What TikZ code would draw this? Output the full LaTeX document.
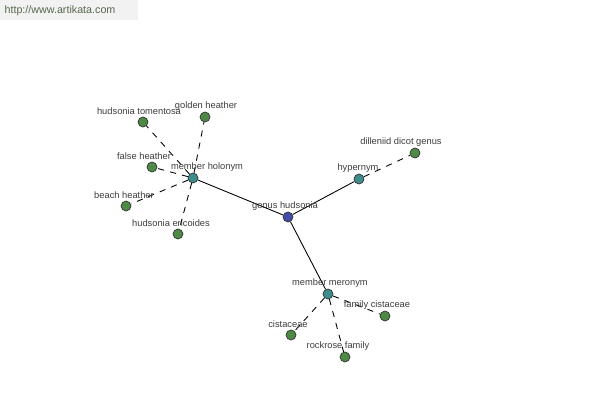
\documentclass[tikz,border=0pt]{standalone}
\usepackage{fontspec}
\setmainfont{Liberation Sans}
\usetikzlibrary{positioning}
\definecolor{rootcolor}{RGB}{68,78,168}
\definecolor{relcolor}{RGB}{62,140,142}
\definecolor{leafcolor}{RGB}{78,138,70}
\definecolor{labelcolor}{RGB}{60,60,60}
\definecolor{markcolor}{RGB}{85,105,75}

\begin{document}
\begin{tikzpicture}[x=0.02cm, y=-0.02cm,
    word/.style={circle, draw=black!80, line width=0.4pt, minimum size=0.2cm, inner sep=0pt},
    root/.style={word, fill=rootcolor},
    rel/.style={word, fill=relcolor},
    leaf/.style={word, fill=leafcolor},
    tag/.style={font=\fontsize{5.3}{6}\selectfont, text=labelcolor, inner sep=0pt},
    link/.style={line width=0.5pt, black},
    sublink/.style={line width=0.5pt, black, dash pattern=on 3.5pt off 3.5pt},
]
    \useasboundingbox (0,0) rectangle (600,400);
    \fill[gray!10] (0,0) rectangle (138,20);
    \node[font=\fontsize{6.1}{7}\selectfont, text=markcolor, inner sep=0pt] (mark) at (60,11) {http://www.artikata.com};

    \node[root] (genus) at (288,217) {};
    \node[rel] (holonym) at (193,178) {};
    \node[rel] (hypernym) at (359,179) {};
    \node[rel] (meronym) at (328,294) {};

    \node[leaf] (tomentosa) at (143,122) {};
    \node[leaf] (golden) at (205,117) {};
    \node[leaf] (false) at (152,167) {};
    \node[leaf] (beach) at (126,206) {};
    \node[leaf] (ericoides) at (178,234) {};
    \node[leaf] (dilleniid) at (415,153) {};
    \node[leaf] (cistaceaefam) at (385,316) {};
    \node[leaf] (cistaceae) at (291,335) {};
    \node[leaf] (rockrose) at (345,357) {};

    \draw[link] (genus) -- (holonym);
    \draw[link] (genus) -- (hypernym);
    \draw[link] (genus) -- (meronym);
    \draw[sublink] (holonym) -- (tomentosa);
    \draw[sublink] (holonym) -- (golden);
    \draw[sublink] (holonym) -- (false);
    \draw[sublink] (holonym) -- (beach);
    \draw[sublink] (holonym) -- (ericoides);
    \draw[sublink] (hypernym) -- (dilleniid);
    \draw[sublink] (meronym) -- (cistaceaefam);
    \draw[sublink] (meronym) -- (cistaceae);
    \draw[sublink] (meronym) -- (rockrose);

    \node[tag] (genus-t) at (285,206) {genus hudsonia};
    \node[tag] (holonym-t) at (207,167) {member holonym};
    \node[tag] (hypernym-t) at (358,168) {hypernym};
    \node[tag] (meronym-t) at (330,283) {member meronym};
    \node[tag] (tomentosa-t) at (139,111) {hudsonia tomentosa};
    \node[tag] (golden-t) at (206,106) {golden heather};
    \node[tag] (false-t) at (144,156) {false heather};
    \node[tag] (beach-t) at (124,195) {beach heather};
    \node[tag] (ericoides-t) at (171,223) {hudsonia ericoides};
    \node[tag] (dilleniid-t) at (401,142) {dilleniid dicot genus};
    \node[tag] (cistaceaefam-t) at (377,305) {family cistaceae};
    \node[tag] (cistaceae-t) at (288,324) {cistaceae};
    \node[tag] (rockrose-t) at (338,346) {rockrose family};
\end{tikzpicture}
\end{document}
